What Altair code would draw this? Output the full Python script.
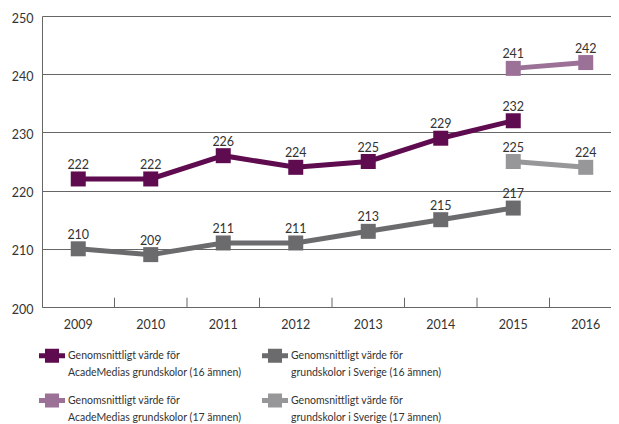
import altair as alt
import pandas as pd

years = ["2009", "2010", "2011", "2012", "2013", "2014", "2015", "2016"]
series_names = [
    "Genomsnittligt värde för|AcadeMedias grundskolor (16 ämnen)",
    "Genomsnittligt värde för|AcadeMedias grundskolor (17 ämnen)",
    "Genomsnittligt värde för|grundskolor i Sverige (16 ämnen)",
    "Genomsnittligt värde för|grundskolor i Sverige (17 ämnen)",
]
acade16 = [222, 222, 226, 224, 225, 229, 232]
sverige16 = [210, 209, 211, 211, 213, 215, 217]
acade17 = [241, 242]
sverige17 = [225, 224]
colors = ["#5f0b4f", "#9c7198", "#6b6b6e", "#97979a"]
y_ticks = [200, 210, 220, 230, 240, 250]

rows = []
for y, v in zip(years[:7], acade16):
    rows.append({"series": series_names[0], "year": y, "value": v})
for y, v in zip(years[:7], sverige16):
    rows.append({"series": series_names[2], "year": y, "value": v})
for y, v in zip(years[6:], acade17):
    rows.append({"series": series_names[1], "year": y, "value": v})
for y, v in zip(years[6:], sverige17):
    rows.append({"series": series_names[3], "year": y, "value": v})
df = pd.DataFrame(rows)
ticks_df = pd.DataFrame({"year": years[1:]})

FONT = "Lato"
TXT = "#333333"
GRID = "#666666"

# the plot area runs past the window's right edge in the reference
xscale = alt.Scale(type="band", domain=years, paddingInner=0, paddingOuter=0,
                   range=[0, 580])
yscale = alt.Scale(domain=[200, 250], nice=False, zero=False)

x_axis = alt.Axis(title=None, labelAngle=0, labelAlign="center", bandPosition=0.5,
                  ticks=False, grid=False, domainColor=GRID, labelPadding=11,
                  labelFontSize=12.5, labelColor=TXT, labelFont=FONT)
x_enc = alt.X("year:O", bandPosition=0.5, scale=xscale, axis=x_axis)
y_enc = alt.Y("value:Q", scale=yscale,
              axis=alt.Axis(title=None, values=y_ticks, ticks=False, grid=True,
                            gridColor=GRID, gridOpacity=1, domainColor=GRID,
                            labelPadding=9, labelFontSize=12.5, labelColor=TXT,
                            labelFont=FONT, labelOffset=2))

sym = ("M-1,-0.19 L1,-0.19 L1,0.19 L-1,0.19 Z "
       "M-0.54,-0.54 L0.54,-0.54 L0.54,0.54 L-0.54,0.54 Z")

color_legend = alt.Legend(
    orient="none", legendX=-3, legendY=326.5, columns=2, columnPadding=20,
    rowPadding=9, title=None, symbolType=sym, symbolSize=676,
    symbolStrokeWidth=0, labelExpr="split(datum.label, '|')",
    labelFontSize=10.5, labelColor=TXT, labelFont=FONT, labelOffset=3,
    labelLimit=0, padding=0,
)
color_scale = alt.Scale(domain=series_names, range=colors)

base = alt.Chart(df)

lines = base.mark_line(strokeWidth=5).encode(
    x=x_enc, y=y_enc,
    color=alt.Color("series:N", scale=color_scale, legend=color_legend),
)
points = base.mark_point(shape="square", filled=True, size=225, opacity=1).encode(
    x=x_enc, y=y_enc,
    color=alt.Color("series:N", scale=color_scale, legend=color_legend),
)
labels = base.mark_text(baseline="bottom", dy=-7, fontSize=12.5, color=TXT, font=FONT).encode(
    x=x_enc, y=y_enc, text=alt.Text("value:Q", format="d"),
)
tick_rules = alt.Chart(ticks_df).mark_rule(color=GRID, strokeWidth=1).encode(
    x=alt.X("year:O", bandPosition=0, scale=xscale, axis=x_axis),
    y=alt.datum(200),
    y2=alt.datum(201.6),
)

chart = alt.layer(lines, points, labels, tick_rules).properties(
    width=569, height=291,
    autosize=alt.AutoSizeParams(type="none"),
    padding={"left": 34, "top": 8, "right": 0, "bottom": 117},
).configure(
    style={"guide-label": {"lineHeight": 17}}
).configure_view(stroke=None)

chart.save("out.html", embed_options={"renderer": "svg", "actions": False})
